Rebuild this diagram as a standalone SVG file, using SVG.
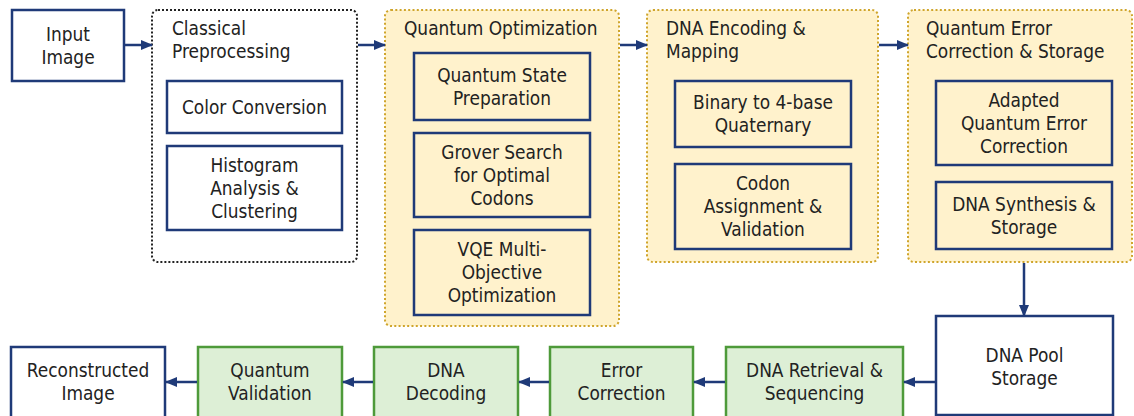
<svg xmlns="http://www.w3.org/2000/svg" width="1134" height="416" viewBox="0 0 1134 416">
<defs>
<marker id="ah" markerWidth="12" markerHeight="10" refX="11" refY="5" orient="auto" markerUnits="userSpaceOnUse">
<path d="M0,0 L12,5 L0,10 z" fill="#1F3A78"/>
</marker>
<style>
text{font-family:"DejaVu Sans Condensed","DejaVu Sans",sans-serif;font-stretch:condensed;font-size:18.9px;fill:#222}
.c{text-anchor:middle}
.nb{fill:#fff;stroke:#1F3A78;stroke-width:2.5}
.ny{fill:#FFF2CC;stroke:#1F3A78;stroke-width:2.5}
.gr{fill:#DDEFD6;stroke:#4E9A3A;stroke-width:2.5}
.dk{fill:#fff;stroke:#222;stroke-width:2;stroke-dasharray:2 2}
.dy{fill:#FFF2CC;stroke:#CFA52C;stroke-width:2;stroke-dasharray:2 2.3}
.cn{stroke:#1F3A78;stroke-width:2.5;fill:none;marker-end:url(#ah)}
</style>
</defs>
<rect width="1134" height="416" fill="#fff"/>

<g id="input-image">
<rect class="nb" x="12" y="10" width="112" height="71"/>
<text class="c" x="68" y="41">Input</text>
<text class="c" x="68" y="64">Image</text>
</g>

<g id="classical-preprocessing">
<rect class="dk" x="152" y="10" width="205" height="252" rx="6"/>
<text x="172" y="35">Classical</text>
<text x="172" y="58">Preprocessing</text>
</g>
<g id="color-conversion">
<rect class="nb" x="167" y="81" width="175" height="52"/>
<text class="c" x="254.5" y="114">Color Conversion</text>
</g>
<g id="histogram">
<rect class="nb" x="167" y="146" width="175" height="84"/>
<text class="c" x="254.5" y="171.5">Histogram</text>
<text class="c" x="254.5" y="194.5">Analysis &amp;</text>
<text class="c" x="254.5" y="217.5">Clustering</text>
</g>

<g id="quantum-optimization">
<rect class="dy" x="385" y="10" width="234" height="316" rx="6"/>
<text x="404" y="35">Quantum Optimization</text>
</g>
<g id="state-prep">
<rect class="ny" x="414" y="53" width="176" height="67"/>
<text class="c" x="502" y="81.5">Quantum State</text>
<text class="c" x="502" y="104.5">Preparation</text>
</g>
<g id="grover">
<rect class="ny" x="414" y="133" width="176" height="84"/>
<text class="c" x="502" y="158.5">Grover Search</text>
<text class="c" x="502" y="181.5">for Optimal</text>
<text class="c" x="502" y="204.5">Codons</text>
</g>
<g id="vqe">
<rect class="ny" x="414" y="230" width="176" height="85"/>
<text class="c" x="502" y="256">VQE Multi-</text>
<text class="c" x="502" y="279">Objective</text>
<text class="c" x="502" y="302">Optimization</text>
</g>

<g id="dna-encoding">
<rect class="dy" x="647" y="10" width="231" height="252" rx="6"/>
<text x="666" y="35">DNA Encoding &amp;</text>
<text x="666" y="58">Mapping</text>
</g>
<g id="binary-quaternary">
<rect class="ny" x="675" y="81" width="176" height="66"/>
<text class="c" x="763" y="109">Binary to 4-base</text>
<text class="c" x="763" y="132">Quaternary</text>
</g>
<g id="codon-assignment">
<rect class="ny" x="675" y="164" width="176" height="85"/>
<text class="c" x="763" y="190">Codon</text>
<text class="c" x="763" y="213">Assignment &amp;</text>
<text class="c" x="763" y="236">Validation</text>
</g>

<g id="qec-storage">
<rect class="dy" x="908" y="10" width="224" height="252" rx="6"/>
<text x="926" y="35">Quantum Error</text>
<text x="926" y="58">Correction &amp; Storage</text>
</g>
<g id="adapted-qec">
<rect class="ny" x="936" y="81" width="176" height="84"/>
<text class="c" x="1024" y="106.5">Adapted</text>
<text class="c" x="1024" y="129.5">Quantum Error</text>
<text class="c" x="1024" y="152.5">Correction</text>
</g>
<g id="dna-synthesis">
<rect class="ny" x="936" y="182" width="176" height="67"/>
<text class="c" x="1024" y="210.5">DNA Synthesis &amp;</text>
<text class="c" x="1024" y="233.5">Storage</text>
</g>

<g id="dna-pool">
<rect class="nb" x="936" y="316" width="177" height="99"/>
<text class="c" x="1024.5" y="361.5">DNA Pool</text>
<text class="c" x="1024.5" y="384.5">Storage</text>
</g>
<g id="dna-retrieval">
<rect class="gr" x="726" y="347" width="177" height="74"/>
<text class="c" x="814.5" y="377">DNA Retrieval &amp;</text>
<text class="c" x="814.5" y="400">Sequencing</text>
</g>
<g id="error-correction">
<rect class="gr" x="550" y="347" width="143" height="74"/>
<text class="c" x="621.5" y="377">Error</text>
<text class="c" x="621.5" y="400">Correction</text>
</g>
<g id="dna-decoding">
<rect class="gr" x="374" y="347" width="144" height="74"/>
<text class="c" x="446" y="377">DNA</text>
<text class="c" x="446" y="400">Decoding</text>
</g>
<g id="quantum-validation">
<rect class="gr" x="198" y="347" width="144" height="74"/>
<text class="c" x="270" y="377">Quantum</text>
<text class="c" x="270" y="400">Validation</text>
</g>
<g id="reconstructed-image">
<rect class="nb" x="11" y="347" width="154" height="74"/>
<text class="c" x="88" y="377">Reconstructed</text>
<text class="c" x="88" y="400">Image</text>
</g>

<g id="connectors">
<line class="cn" x1="125" y1="45" x2="152" y2="45"/>
<line class="cn" x1="358" y1="45" x2="385" y2="45"/>
<line class="cn" x1="620" y1="45" x2="647" y2="45"/>
<line class="cn" x1="879" y1="45" x2="908" y2="45"/>
<line class="cn" x1="1024" y1="263" x2="1024" y2="316"/>
<line class="cn" x1="935" y1="382" x2="904" y2="382"/>
<line class="cn" x1="725" y1="382" x2="694" y2="382"/>
<line class="cn" x1="549" y1="382" x2="519" y2="382"/>
<line class="cn" x1="373" y1="382" x2="343" y2="382"/>
<line class="cn" x1="197" y1="382" x2="166" y2="382"/>
</g>
</svg>
